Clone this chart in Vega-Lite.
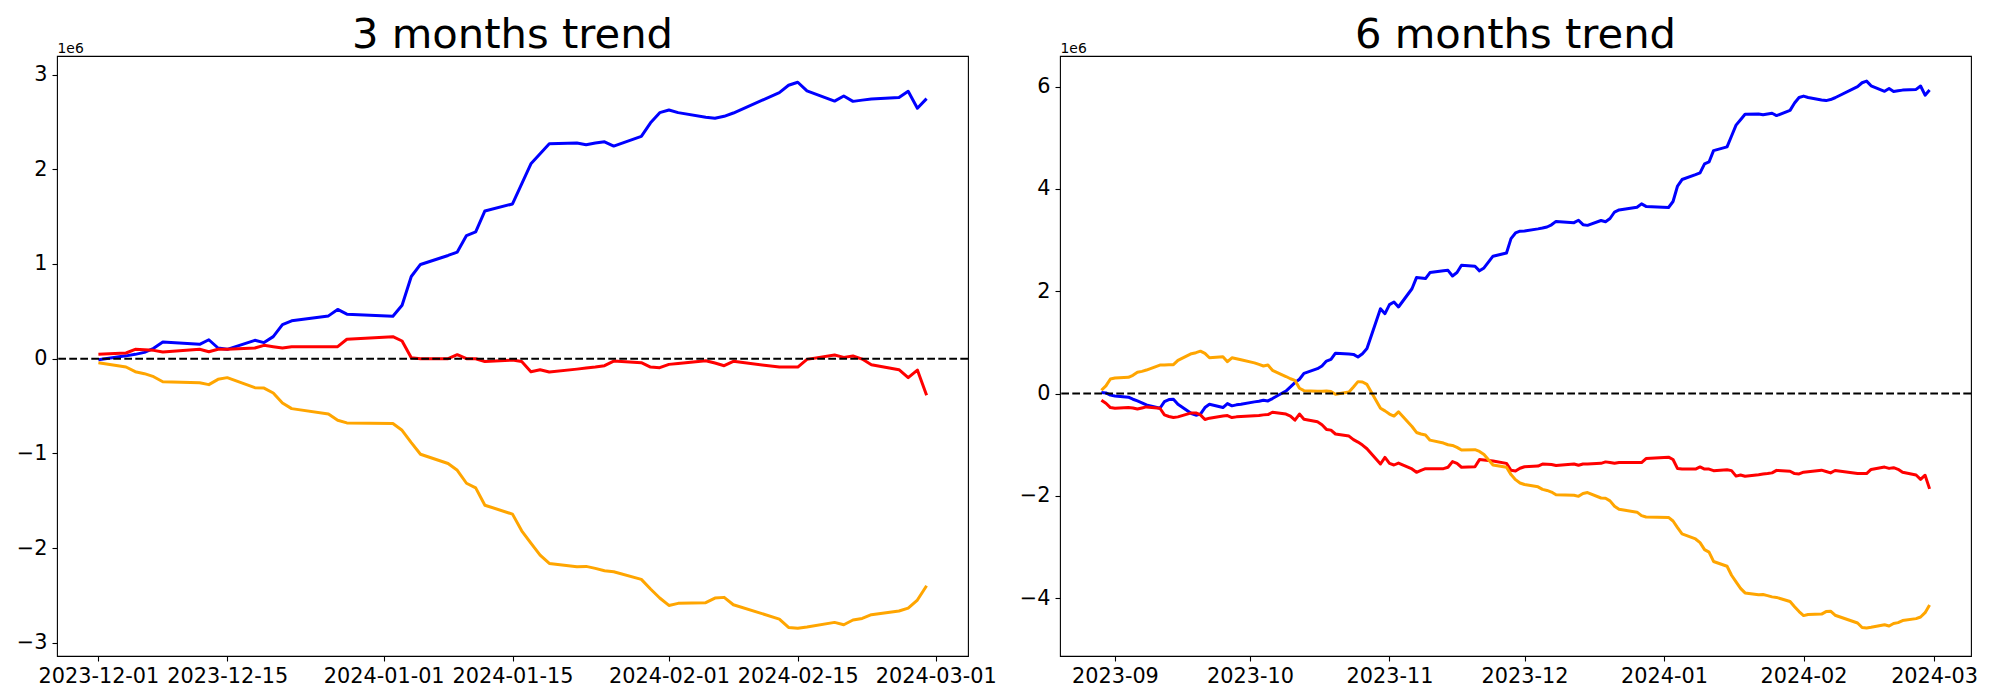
{
  "$schema": "https://vega.github.io/schema/vega-lite/v6.json",
  "background": "white",
  "padding": {"left": 15, "top": 14, "right": 5, "bottom": 5},
  "config": {
    "font": "DejaVu Sans",
    "view": {"stroke": "#000000", "strokeWidth": 1.1},
    "axis": {
      "domain": false, "grid": false, "ticks": true, "tickSize": 5, "tickWidth": 1.1, "tickColor": "#000000",
      "labelColor": "#000000", "labelFontSize": 20.8, "labelFont": "DejaVu Sans", "labelFlush": false, "labelOverlap": false, "labelBound": false,
      "titleFont": "DejaVu Sans", "titleColor": "#000000"
    },
    "axisX": {"labelPadding": 5},
    "axisY": {"labelPadding": 5, "titleAngle": 0, "titleAlign": "left", "titleBaseline": "alphabetic", "titleX": 0, "titleY": -4, "titleFontSize": 13.9, "titleFontWeight": "normal"}
  },
  "datasets": {
    "m3": [
      {"date": "2023-12-01", "s1": -0.01, "s2": 0.046, "s3": -0.042},
      {"date": "2023-12-04", "s1": 0.03, "s2": 0.06, "s3": -0.088},
      {"date": "2023-12-05", "s1": 0.046, "s2": 0.099, "s3": -0.137},
      {"date": "2023-12-06", "s1": 0.067, "s2": 0.095, "s3": -0.158},
      {"date": "2023-12-07", "s1": 0.11, "s2": 0.088, "s3": -0.19},
      {"date": "2023-12-08", "s1": 0.176, "s2": 0.07, "s3": -0.243},
      {"date": "2023-12-12", "s1": 0.152, "s2": 0.099, "s3": -0.253},
      {"date": "2023-12-13", "s1": 0.2, "s2": 0.074, "s3": -0.274},
      {"date": "2023-12-14", "s1": 0.113, "s2": 0.099, "s3": -0.218},
      {"date": "2023-12-15", "s1": 0.099, "s2": 0.099, "s3": -0.2},
      {"date": "2023-12-18", "s1": 0.194, "s2": 0.113, "s3": -0.306},
      {"date": "2023-12-19", "s1": 0.17, "s2": 0.141, "s3": -0.31},
      {"date": "2023-12-20", "s1": 0.233, "s2": 0.127, "s3": -0.362},
      {"date": "2023-12-21", "s1": 0.36, "s2": 0.113, "s3": -0.467},
      {"date": "2023-12-22", "s1": 0.4, "s2": 0.127, "s3": -0.527},
      {"date": "2023-12-26", "s1": 0.452, "s2": 0.127, "s3": -0.583},
      {"date": "2023-12-27", "s1": 0.52, "s2": 0.127, "s3": -0.65},
      {"date": "2023-12-28", "s1": 0.47, "s2": 0.205, "s3": -0.678},
      {"date": "2024-01-02", "s1": 0.448, "s2": 0.233, "s3": -0.685},
      {"date": "2024-01-03", "s1": 0.565, "s2": 0.187, "s3": -0.756},
      {"date": "2024-01-04", "s1": 0.868, "s2": 0.01, "s3": -0.886},
      {"date": "2024-01-05", "s1": 0.995, "s2": 0.0, "s3": -1.009},
      {"date": "2024-01-08", "s1": 1.09, "s2": 0.0, "s3": -1.107},
      {"date": "2024-01-09", "s1": 1.126, "s2": 0.042, "s3": -1.178},
      {"date": "2024-01-10", "s1": 1.3, "s2": 0.0, "s3": -1.315},
      {"date": "2024-01-11", "s1": 1.338, "s2": 0.0, "s3": -1.364},
      {"date": "2024-01-12", "s1": 1.56, "s2": -0.03, "s3": -1.547},
      {"date": "2024-01-15", "s1": 1.634, "s2": -0.014, "s3": -1.641},
      {"date": "2024-01-16", "s1": 1.846, "s2": -0.03, "s3": -1.817},
      {"date": "2024-01-17", "s1": 2.058, "s2": -0.137, "s3": -1.947},
      {"date": "2024-01-18", "s1": 2.164, "s2": -0.116, "s3": -2.074},
      {"date": "2024-01-19", "s1": 2.27, "s2": -0.14, "s3": -2.162},
      {"date": "2024-01-22", "s1": 2.277, "s2": -0.11, "s3": -2.197},
      {"date": "2024-01-23", "s1": 2.26, "s2": -0.098, "s3": -2.193},
      {"date": "2024-01-24", "s1": 2.277, "s2": -0.088, "s3": -2.214},
      {"date": "2024-01-25", "s1": 2.29, "s2": -0.074, "s3": -2.239},
      {"date": "2024-01-26", "s1": 2.245, "s2": -0.025, "s3": -2.25},
      {"date": "2024-01-29", "s1": 2.347, "s2": -0.042, "s3": -2.33},
      {"date": "2024-01-30", "s1": 2.49, "s2": -0.088, "s3": -2.432},
      {"date": "2024-01-31", "s1": 2.598, "s2": -0.095, "s3": -2.527},
      {"date": "2024-02-01", "s1": 2.626, "s2": -0.06, "s3": -2.605},
      {"date": "2024-02-02", "s1": 2.598, "s2": -0.05, "s3": -2.583},
      {"date": "2024-02-05", "s1": 2.55, "s2": -0.021, "s3": -2.576},
      {"date": "2024-02-06", "s1": 2.538, "s2": -0.046, "s3": -2.527},
      {"date": "2024-02-07", "s1": 2.559, "s2": -0.074, "s3": -2.52},
      {"date": "2024-02-08", "s1": 2.594, "s2": -0.028, "s3": -2.598},
      {"date": "2024-02-13", "s1": 2.81, "s2": -0.088, "s3": -2.749},
      {"date": "2024-02-14", "s1": 2.887, "s2": -0.088, "s3": -2.837},
      {"date": "2024-02-15", "s1": 2.919, "s2": -0.088, "s3": -2.847},
      {"date": "2024-02-16", "s1": 2.827, "s2": -0.007, "s3": -2.833},
      {"date": "2024-02-19", "s1": 2.72, "s2": 0.039, "s3": -2.784},
      {"date": "2024-02-20", "s1": 2.774, "s2": 0.014, "s3": -2.809},
      {"date": "2024-02-21", "s1": 2.717, "s2": 0.028, "s3": -2.759},
      {"date": "2024-02-22", "s1": 2.73, "s2": -0.004, "s3": -2.742},
      {"date": "2024-02-23", "s1": 2.743, "s2": -0.063, "s3": -2.703},
      {"date": "2024-02-26", "s1": 2.757, "s2": -0.116, "s3": -2.664},
      {"date": "2024-02-27", "s1": 2.824, "s2": -0.2, "s3": -2.633},
      {"date": "2024-02-28", "s1": 2.644, "s2": -0.12, "s3": -2.548},
      {"date": "2024-02-29", "s1": 2.746, "s2": -0.387, "s3": -2.397}
    ],
    "m6": [
      {"date": "2023-08-29", "s1": 0.02, "s2": -0.13, "s3": 0.065},
      {"date": "2023-08-30", "s1": 0.013, "s2": -0.188, "s3": 0.15},
      {"date": "2023-08-31", "s1": -0.03, "s2": -0.273, "s3": 0.286},
      {"date": "2023-09-01", "s1": -0.045, "s2": -0.286, "s3": 0.305},
      {"date": "2023-09-04", "s1": -0.07, "s2": -0.273, "s3": 0.318},
      {"date": "2023-09-05", "s1": -0.11, "s2": -0.28, "s3": 0.357},
      {"date": "2023-09-06", "s1": -0.143, "s2": -0.3, "s3": 0.416},
      {"date": "2023-09-07", "s1": -0.18, "s2": -0.28, "s3": 0.435},
      {"date": "2023-09-08", "s1": -0.22, "s2": -0.26, "s3": 0.46},
      {"date": "2023-09-11", "s1": -0.286, "s2": -0.286, "s3": 0.558},
      {"date": "2023-09-12", "s1": -0.156, "s2": -0.416, "s3": 0.558},
      {"date": "2023-09-13", "s1": -0.117, "s2": -0.448, "s3": 0.565},
      {"date": "2023-09-14", "s1": -0.11, "s2": -0.468, "s3": 0.565},
      {"date": "2023-09-15", "s1": -0.208, "s2": -0.455, "s3": 0.65},
      {"date": "2023-09-18", "s1": -0.39, "s2": -0.377, "s3": 0.78},
      {"date": "2023-09-19", "s1": -0.422, "s2": -0.377, "s3": 0.8},
      {"date": "2023-09-20", "s1": -0.4, "s2": -0.416, "s3": 0.83},
      {"date": "2023-09-21", "s1": -0.273, "s2": -0.506, "s3": 0.786},
      {"date": "2023-09-22", "s1": -0.208, "s2": -0.48, "s3": 0.7},
      {"date": "2023-09-25", "s1": -0.273, "s2": -0.44, "s3": 0.72},
      {"date": "2023-09-26", "s1": -0.195, "s2": -0.43, "s3": 0.623},
      {"date": "2023-09-27", "s1": -0.24, "s2": -0.468, "s3": 0.7},
      {"date": "2023-09-28", "s1": -0.22, "s2": -0.455, "s3": 0.68},
      {"date": "2023-09-29", "s1": -0.208, "s2": -0.448, "s3": 0.66},
      {"date": "2023-10-02", "s1": -0.162, "s2": -0.435, "s3": 0.6},
      {"date": "2023-10-03", "s1": -0.15, "s2": -0.43, "s3": 0.57},
      {"date": "2023-10-04", "s1": -0.13, "s2": -0.416, "s3": 0.54},
      {"date": "2023-10-05", "s1": -0.143, "s2": -0.41, "s3": 0.558},
      {"date": "2023-10-06", "s1": -0.097, "s2": -0.364, "s3": 0.455},
      {"date": "2023-10-09", "s1": 0.05, "s2": -0.4, "s3": 0.334},
      {"date": "2023-10-10", "s1": 0.13, "s2": -0.44, "s3": 0.29},
      {"date": "2023-10-11", "s1": 0.214, "s2": -0.52, "s3": 0.26},
      {"date": "2023-10-12", "s1": 0.28, "s2": -0.4, "s3": 0.104},
      {"date": "2023-10-13", "s1": 0.396, "s2": -0.5, "s3": 0.058},
      {"date": "2023-10-16", "s1": 0.487, "s2": -0.552, "s3": 0.045},
      {"date": "2023-10-17", "s1": 0.54, "s2": -0.61, "s3": 0.045},
      {"date": "2023-10-18", "s1": 0.636, "s2": -0.7, "s3": 0.052},
      {"date": "2023-10-19", "s1": 0.67, "s2": -0.714, "s3": 0.039},
      {"date": "2023-10-20", "s1": 0.79, "s2": -0.79, "s3": -0.013},
      {"date": "2023-10-23", "s1": 0.773, "s2": -0.83, "s3": 0.032},
      {"date": "2023-10-24", "s1": 0.766, "s2": -0.9, "s3": 0.13},
      {"date": "2023-10-25", "s1": 0.714, "s2": -0.948, "s3": 0.234},
      {"date": "2023-10-26", "s1": 0.78, "s2": -1.006, "s3": 0.227},
      {"date": "2023-10-27", "s1": 0.88, "s2": -1.078, "s3": 0.18},
      {"date": "2023-10-30", "s1": 1.66, "s2": -1.377, "s3": -0.286},
      {"date": "2023-10-31", "s1": 1.562, "s2": -1.247, "s3": -0.338},
      {"date": "2023-11-01", "s1": 1.739, "s2": -1.364, "s3": -0.4},
      {"date": "2023-11-02", "s1": 1.79, "s2": -1.396, "s3": -0.44},
      {"date": "2023-11-03", "s1": 1.693, "s2": -1.357, "s3": -0.357},
      {"date": "2023-11-06", "s1": 2.05, "s2": -1.474, "s3": -0.643},
      {"date": "2023-11-07", "s1": 2.268, "s2": -1.539, "s3": -0.76},
      {"date": "2023-11-08", "s1": 2.26, "s2": -1.5, "s3": -0.79},
      {"date": "2023-11-09", "s1": 2.248, "s2": -1.467, "s3": -0.81},
      {"date": "2023-11-10", "s1": 2.366, "s2": -1.467, "s3": -0.91},
      {"date": "2023-11-13", "s1": 2.4, "s2": -1.467, "s3": -0.967},
      {"date": "2023-11-14", "s1": 2.41, "s2": -1.44, "s3": -1.0},
      {"date": "2023-11-15", "s1": 2.3, "s2": -1.33, "s3": -1.013},
      {"date": "2023-11-16", "s1": 2.366, "s2": -1.364, "s3": -1.052},
      {"date": "2023-11-17", "s1": 2.51, "s2": -1.44, "s3": -1.104},
      {"date": "2023-11-20", "s1": 2.49, "s2": -1.43, "s3": -1.097},
      {"date": "2023-11-21", "s1": 2.4, "s2": -1.29, "s3": -1.13},
      {"date": "2023-11-22", "s1": 2.457, "s2": -1.3, "s3": -1.19},
      {"date": "2023-11-24", "s1": 2.686, "s2": -1.318, "s3": -1.396},
      {"date": "2023-11-27", "s1": 2.75, "s2": -1.364, "s3": -1.44},
      {"date": "2023-11-28", "s1": 3.03, "s2": -1.5, "s3": -1.584},
      {"date": "2023-11-29", "s1": 3.14, "s2": -1.513, "s3": -1.682},
      {"date": "2023-11-30", "s1": 3.176, "s2": -1.46, "s3": -1.747},
      {"date": "2023-12-01", "s1": 3.18, "s2": -1.43, "s3": -1.777},
      {"date": "2023-12-04", "s1": 3.22, "s2": -1.416, "s3": -1.823},
      {"date": "2023-12-05", "s1": 3.236, "s2": -1.377, "s3": -1.872},
      {"date": "2023-12-06", "s1": 3.257, "s2": -1.381, "s3": -1.893},
      {"date": "2023-12-07", "s1": 3.3, "s2": -1.388, "s3": -1.925},
      {"date": "2023-12-08", "s1": 3.366, "s2": -1.406, "s3": -1.978},
      {"date": "2023-12-12", "s1": 3.342, "s2": -1.377, "s3": -1.988},
      {"date": "2023-12-13", "s1": 3.39, "s2": -1.402, "s3": -2.009},
      {"date": "2023-12-14", "s1": 3.303, "s2": -1.377, "s3": -1.953},
      {"date": "2023-12-15", "s1": 3.289, "s2": -1.377, "s3": -1.935},
      {"date": "2023-12-18", "s1": 3.384, "s2": -1.363, "s3": -2.041},
      {"date": "2023-12-19", "s1": 3.36, "s2": -1.335, "s3": -2.045},
      {"date": "2023-12-20", "s1": 3.423, "s2": -1.349, "s3": -2.097},
      {"date": "2023-12-21", "s1": 3.55, "s2": -1.363, "s3": -2.202},
      {"date": "2023-12-22", "s1": 3.59, "s2": -1.349, "s3": -2.262},
      {"date": "2023-12-26", "s1": 3.642, "s2": -1.349, "s3": -2.318},
      {"date": "2023-12-27", "s1": 3.71, "s2": -1.349, "s3": -2.385},
      {"date": "2023-12-28", "s1": 3.66, "s2": -1.271, "s3": -2.413},
      {"date": "2024-01-02", "s1": 3.638, "s2": -1.243, "s3": -2.42},
      {"date": "2024-01-03", "s1": 3.755, "s2": -1.289, "s3": -2.491},
      {"date": "2024-01-04", "s1": 4.058, "s2": -1.466, "s3": -2.621},
      {"date": "2024-01-05", "s1": 4.185, "s2": -1.476, "s3": -2.744},
      {"date": "2024-01-08", "s1": 4.28, "s2": -1.476, "s3": -2.842},
      {"date": "2024-01-09", "s1": 4.316, "s2": -1.434, "s3": -2.913},
      {"date": "2024-01-10", "s1": 4.49, "s2": -1.476, "s3": -3.05},
      {"date": "2024-01-11", "s1": 4.528, "s2": -1.476, "s3": -3.099},
      {"date": "2024-01-12", "s1": 4.75, "s2": -1.506, "s3": -3.282},
      {"date": "2024-01-15", "s1": 4.824, "s2": -1.49, "s3": -3.376},
      {"date": "2024-01-16", "s1": 5.036, "s2": -1.506, "s3": -3.552},
      {"date": "2024-01-17", "s1": 5.248, "s2": -1.613, "s3": -3.682},
      {"date": "2024-01-18", "s1": 5.354, "s2": -1.592, "s3": -3.809},
      {"date": "2024-01-19", "s1": 5.46, "s2": -1.616, "s3": -3.897},
      {"date": "2024-01-22", "s1": 5.467, "s2": -1.586, "s3": -3.932},
      {"date": "2024-01-23", "s1": 5.45, "s2": -1.574, "s3": -3.928},
      {"date": "2024-01-24", "s1": 5.467, "s2": -1.564, "s3": -3.949},
      {"date": "2024-01-25", "s1": 5.48, "s2": -1.55, "s3": -3.974},
      {"date": "2024-01-26", "s1": 5.435, "s2": -1.501, "s3": -3.985},
      {"date": "2024-01-29", "s1": 5.537, "s2": -1.518, "s3": -4.065},
      {"date": "2024-01-30", "s1": 5.68, "s2": -1.564, "s3": -4.167},
      {"date": "2024-01-31", "s1": 5.788, "s2": -1.571, "s3": -4.262},
      {"date": "2024-02-01", "s1": 5.816, "s2": -1.536, "s3": -4.34},
      {"date": "2024-02-02", "s1": 5.788, "s2": -1.526, "s3": -4.318},
      {"date": "2024-02-05", "s1": 5.74, "s2": -1.497, "s3": -4.311},
      {"date": "2024-02-06", "s1": 5.728, "s2": -1.522, "s3": -4.262},
      {"date": "2024-02-07", "s1": 5.749, "s2": -1.55, "s3": -4.255},
      {"date": "2024-02-08", "s1": 5.784, "s2": -1.504, "s3": -4.333},
      {"date": "2024-02-13", "s1": 6.0, "s2": -1.564, "s3": -4.484},
      {"date": "2024-02-14", "s1": 6.077, "s2": -1.564, "s3": -4.572},
      {"date": "2024-02-15", "s1": 6.109, "s2": -1.564, "s3": -4.582},
      {"date": "2024-02-16", "s1": 6.017, "s2": -1.483, "s3": -4.568},
      {"date": "2024-02-19", "s1": 5.91, "s2": -1.437, "s3": -4.519},
      {"date": "2024-02-20", "s1": 5.964, "s2": -1.462, "s3": -4.544},
      {"date": "2024-02-21", "s1": 5.907, "s2": -1.448, "s3": -4.494},
      {"date": "2024-02-22", "s1": 5.92, "s2": -1.48, "s3": -4.477},
      {"date": "2024-02-23", "s1": 5.933, "s2": -1.539, "s3": -4.438},
      {"date": "2024-02-26", "s1": 5.947, "s2": -1.592, "s3": -4.399},
      {"date": "2024-02-27", "s1": 6.014, "s2": -1.676, "s3": -4.368},
      {"date": "2024-02-28", "s1": 5.834, "s2": -1.596, "s3": -4.283},
      {"date": "2024-02-29", "s1": 5.936, "s2": -1.863, "s3": -4.132}
    ]
  },
  "spacing": 92,
  "bounds": "flush",
  "hconcat": [
    {
      "width": 911,
      "height": 600,
      "title": {"text": "3 months trend", "fontSize": 41.7, "fontWeight": "normal", "font": "DejaVu Sans", "color": "#000000", "frame": "group", "anchor": "middle", "baseline": "alphabetic", "offset": -48.9},
      "layer": [
        {
          "data": {"name": "m3"},
          "transform": [{"fold": ["s1", "s2", "s3"], "as": ["series", "value"]}],
          "mark": {"type": "line", "strokeWidth": 3, "strokeJoin": "round"},
          "encoding": {
            "x": {"field": "date", "type": "temporal",
              "scale": {"type": "utc", "domain": [1701000000000, 1709553600000], "nice": false},
              "axis": {"title": null, "labelExpr": "utcFormat(datum.value, '%Y-%m-%d')",
                "values": [1701388800000, 1702598400000, 1704067200000, 1705276800000, 1706745600000, 1707955200000, 1709251200000]}},
            "y": {"field": "value", "type": "quantitative",
              "scale": {"domain": [-3.139, 3.196], "nice": false, "zero": false},
              "axis": {"title": "1e6", "format": "d", "values": [-3, -2, -1, 0, 1, 2, 3]}},
            "color": {"field": "series", "type": "nominal",
              "scale": {"domain": ["s1", "s2", "s3"], "range": ["#0000ff", "#ff0000", "#ffa500"]}, "legend": null}
          }
        },
        {
          "data": {"values": [{}]},
          "mark": {"type": "rule", "color": "#000000", "strokeWidth": 2, "strokeDash": [7.7, 3.3]},
          "encoding": {"y": {"datum": 0}}
        }
      ]
    },
    {
      "width": 911,
      "height": 600,
      "title": {"text": "6 months trend", "fontSize": 41.7, "fontWeight": "normal", "font": "DejaVu Sans", "color": "#000000", "frame": "group", "anchor": "middle", "baseline": "alphabetic", "offset": -48.9},
      "layer": [
        {
          "data": {"name": "m6"},
          "transform": [{"fold": ["s1", "s2", "s3"], "as": ["series", "value"]}],
          "mark": {"type": "line", "strokeWidth": 3, "strokeJoin": "round"},
          "encoding": {
            "x": {"field": "date", "type": "temporal",
              "scale": {"type": "utc", "domain": [1692472320000, 1709959680000], "nice": false},
              "axis": {"title": null, "labelExpr": "utcFormat(datum.value, '%Y-%m')",
                "values": [1693526400000, 1696118400000, 1698796800000, 1701388800000, 1704067200000, 1706745600000, 1709251200000]}},
            "y": {"field": "value", "type": "quantitative",
              "scale": {"domain": [-5.13, 6.6], "nice": false, "zero": false},
              "axis": {"title": "1e6", "format": "d", "values": [-4, -2, 0, 2, 4, 6]}},
            "color": {"field": "series", "type": "nominal",
              "scale": {"domain": ["s1", "s2", "s3"], "range": ["#0000ff", "#ff0000", "#ffa500"]}, "legend": null}
          }
        },
        {
          "data": {"values": [{}]},
          "mark": {"type": "rule", "color": "#000000", "strokeWidth": 2, "strokeDash": [7.7, 3.3]},
          "encoding": {"y": {"datum": 0}}
        }
      ]
    }
  ]
}
